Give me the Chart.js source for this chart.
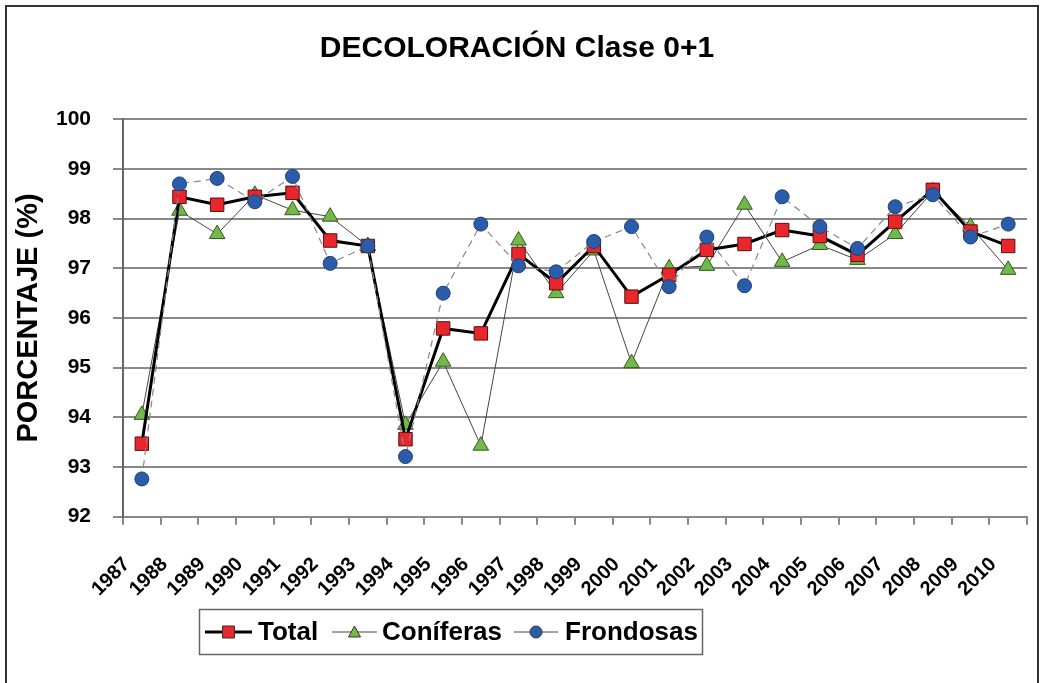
<!DOCTYPE html>
<html>
<head>
<meta charset="utf-8">
<script src="https://cdn.jsdelivr.net/npm/chart.js@4/dist/chart.umd.min.js"></script>
<style>
  body { margin: 0; background: #fff; }
  #wrap { position: relative; width: 1043px; height: 683px; overflow: hidden; }
  #frame { position: absolute; left: 5px; top: 5px; width: 1034px; height: 700px; border: 2px solid #333; box-sizing: border-box; }
  canvas { position: absolute; left: 0; top: 0; }
</style>
</head>
<body>
<div id="wrap">
  <div id="frame"></div>
  <canvas id="mychart" width="1043" height="683"></canvas>
</div>
<script>
// years on the x axis
const years = ['1987','1988','1989','1990','1991','1992','1993','1994','1995','1996','1997','1998',
               '1999','2000','2001','2002','2003','2004','2005','2006','2007','2008','2009','2010'];
// % of trees in class 0+1
const total =     [93.47, 98.44, 98.28, 98.44, 98.52, 97.56, 97.45, 93.56, 95.79, 95.69, 97.29, 96.70,
                   97.45, 96.43, 96.87, 97.37, 97.49, 97.77, 97.65, 97.27, 97.94, 98.58, 97.74, 97.45];
const coniferas = [94.05, 98.16, 97.69, 98.48, 98.17, 98.04, 97.45, 93.85, 95.12, 93.43, 97.56, 96.50,
                   97.36, 95.09, 97.00, 97.05, 98.28, 97.13, 97.47, 97.17, 97.69, 98.55, 97.84, 96.97];
const frondosas = [92.76, 98.70, 98.81, 98.34, 98.85, 97.10, 97.45, 93.21, 96.50, 97.89, 97.05, 96.93,
                   97.54, 97.84, 96.63, 97.63, 96.65, 98.44, 97.84, 97.40, 98.24, 98.48, 97.63, 97.89];
const yTicks = [92, 93, 94, 95, 96, 97, 98, 99, 100];

const FONT = "'Liberation Sans', Arial, sans-serif";

const RED = '#e8262b', GREEN = '#72b84a', BLUE = '#2a5caa';

// legend in a box, drawn under the plot like the original
const boxLegend = {
  id: 'boxLegend',
  afterDraw(chart) {
    const ctx = chart.ctx;
    ctx.save();
    ctx.strokeStyle = '#666';
    ctx.lineWidth = 1.5;
    ctx.strokeRect(199.5, 609.5, 503, 45);
    const cy = 632;
    const items = [
      {x0: 205, x1: 252, text: 'Total', tx: 258, lw: 3, col: '#000', mark: 'rect', fill: RED},
      {x0: 332, x1: 377, text: 'Coníferas', tx: 382, lw: 1, col: '#444', mark: 'tri', fill: GREEN},
      {x0: 514, x1: 558, text: 'Frondosas', tx: 565, lw: 1, col: '#444', mark: 'circle', fill: BLUE}
    ];
    items.forEach(it => {
      ctx.strokeStyle = it.col;
      ctx.lineWidth = it.lw;
      ctx.beginPath();
      ctx.moveTo(it.x0, cy);
      ctx.lineTo(it.x1, cy);
      ctx.stroke();
      const mx = (it.x0 + it.x1) / 2;
      ctx.fillStyle = it.fill;
      ctx.strokeStyle = '#333';
      ctx.lineWidth = 1;
      ctx.beginPath();
      if (it.mark === 'rect') ctx.rect(mx - 6, cy - 6, 12, 12);
      else if (it.mark === 'tri') { ctx.moveTo(mx, cy - 6); ctx.lineTo(mx + 6, cy + 5); ctx.lineTo(mx - 6, cy + 5); ctx.closePath(); }
      else ctx.arc(mx, cy, 6, 0, Math.PI * 2);
      ctx.fill();
      ctx.stroke();
      ctx.fillStyle = '#000';
      ctx.font = 'bold 26px ' + FONT;
      ctx.textBaseline = 'middle';
      ctx.fillText(it.text, it.tx, cy + 1);
    });
    ctx.restore();
  }
};

const canvas = document.getElementById('mychart');
const config = {
  type: 'line',
  data: {
    labels: years,
    datasets: [
      {
        label: 'Frondosas',
        data: frondosas,
        order: 0,
        borderColor: '#888',
        borderWidth: 1.2,
        borderDash: [7, 5],
        pointStyle: 'circle',
        pointRadius: 7,
        pointBackgroundColor: BLUE,
        pointBorderColor: '#1d3f78',
        pointBorderWidth: 1,
        tension: 0
      },
      {
        label: 'Total',
        data: total,
        order: 1,
        borderColor: '#000',
        borderWidth: 3,
        pointStyle: 'rect',
        pointRadius: 9.5,
        pointBackgroundColor: RED,
        pointBorderColor: '#5a1010',
        pointBorderWidth: 1,
        tension: 0
      },
      {
        label: 'Coníferas',
        data: coniferas,
        order: 2,
        borderColor: '#444',
        borderWidth: 1,
        pointStyle: 'triangle',
        pointRadius: 9,
        pointBackgroundColor: GREEN,
        pointBorderColor: '#2f5a1c',
        pointBorderWidth: 1,
        tension: 0
      }
    ]
  },
  options: {
    responsive: false,
    animation: false,
    layout: { padding: { left: 7, right: 16, top: 0, bottom: 86.3 } },
    plugins: {
      legend: { display: false },
      tooltip: { enabled: false },
      title: {
        display: true,
        text: 'DECOLORACIÓN Clase 0+1',
        color: '#000',
        font: { family: FONT, size: 30, weight: 'bold', lineHeight: 1.2 },
        padding: { top: 31, bottom: 52.3 }
      }
    },
    scales: {
      x: {
        type: 'category',
        offset: true,
        afterFit: (s) => { s.height = 80; s.paddingLeft = 0; s.paddingRight = 0; },
        grid: { offset: true, drawOnChartArea: false, tickLength: 8, color: '#888', lineWidth: 2 },
        border: { color: '#888', width: 2 },
        ticks: {
          autoSkip: false, minRotation: 45, maxRotation: 45,
          labelOffset: -15, padding: 28, color: '#000',
          font: { family: FONT, size: 20, weight: 'bold' }
        }
      },
      y: {
        min: 92,
        max: 100,
        afterFit: (s) => { s.width = 116; },
        afterBuildTicks: (s) => { s.ticks = yTicks.map(v => ({ value: v })); },
        grid: { color: '#888', lineWidth: 2, tickLength: 10 },
        border: { color: '#666', width: 2 },
        ticks: {
          padding: 22, color: '#000',
          font: { family: FONT, size: 21, weight: 'bold' }
        },
        title: {
          display: true,
          text: 'PORCENTAJE (%)',
          color: '#000',
          font: { family: FONT, size: 29, weight: 'bold', lineHeight: 1.2 },
          padding: { top: 5, bottom: 0 }
        }
      }
    }
  },
  plugins: [boxLegend]
};
new Chart(canvas, config);
</script>
</body>
</html>
